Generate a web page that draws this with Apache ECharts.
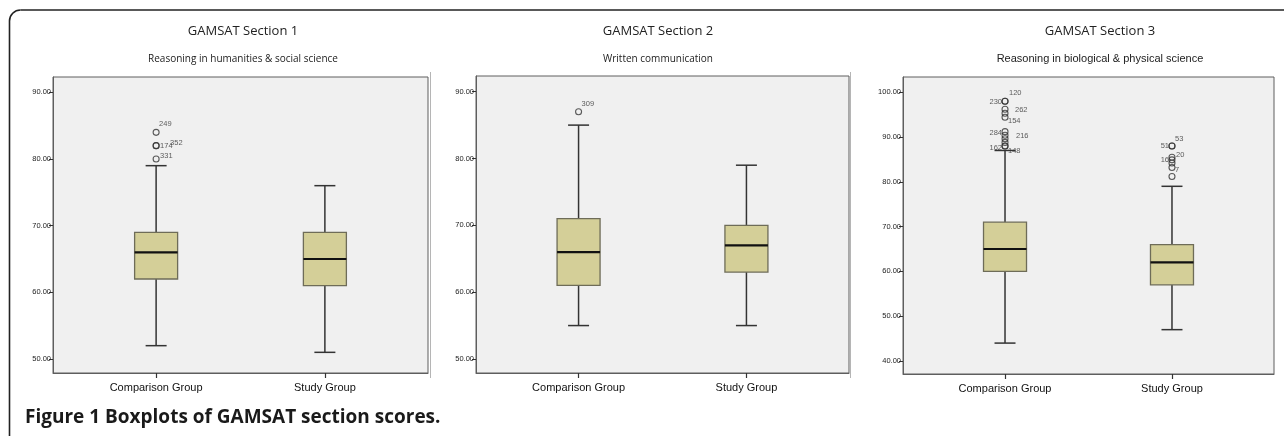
<!DOCTYPE html>
<html>
<head>
<meta charset="utf-8">
<script src="https://cdn.jsdelivr.net/npm/echarts@6/dist/echarts.min.js"></script>
<style>
  html, body { margin: 0; padding: 0; background: #ffffff; }
  #chart { width: 1284px; height: 436px; }
</style>
</head>
<body>
<div id="chart"></div>
<script>
// ---------- data ----------
const categories = ['Comparison Group', 'Study Group'];
const panelTitles = ['GAMSAT Section 1', 'GAMSAT Section 2', 'GAMSAT Section 3'];
const panelSubtitles = [
  'Reasoning in humanities & social science',
  'Written communication',
  'Reasoning in biological & physical science'
];
const caption = 'Figure 1 Boxplots of GAMSAT section scores.';

const yTicks12 = [50, 60, 70, 80, 90];
const yTicks3 = [40, 50, 60, 70, 80, 90, 100];

// [lower whisker, Q1, median, Q3, upper whisker]
const s1Comparison = [52, 62, 66, 69, 79];
const s1Study      = [51, 61, 65, 69, 76];
const s2Comparison = [55, 61, 66, 71, 85];
const s2Study      = [55, 63, 67, 70, 79];
const s3Comparison = [44, 60, 65, 71, 87];
const s3Study      = [47, 57, 62, 66, 79];

// outliers: [group index, value, case id]
const s1Outliers = [[0, 84, '249'], [0, 82, '174'], [0, 82, '352'], [0, 80, '331']];
const s2Outliers = [[0, 87, '309']];
const s3Outliers = [
  [0, 98, '120'], [0, 98, '230'], [0, 96.2, '262'], [0, 95.3, ''], [0, 94.4, '154'],
  [0, 91.2, '284'], [0, 90.4, '216'], [0, 89.6, ''], [0, 88.8, ''], [0, 88, '162'], [0, 88, '148'],
  [1, 88, '51'], [1, 88, '53'], [1, 85.5, '20'], [1, 84.9, '16'], [1, 84.2, ''], [1, 83.2, '7'], [1, 81.2, '']
];

// ---------- styling / layout ----------
// label placement per case id: [dx, dy, align]
const labelPlacement = {
  '249': [3, -8, 'left'], '174': [4, 0, 'left'], '352': [14, -3, 'left'], '331': [4, -3, 'left'],
  '309': [3, -8, 'left'],
  '120': [4, -8, 'left'], '230': [-3, 1, 'right'], '262': [10, 1, 'left'], '154': [3, 4, 'left'],
  '284': [-3, 1, 'right'], '216': [11, 1, 'left'], '162': [-3, 2, 'right'], '148': [3, 5, 'left'],
  '51': [-3, 0, 'right'], '53': [3, -7, 'left'], '20': [4, -2, 'left'], '16': [-3, 0, 'right'], '7': [3, 2, 'left']
};

const grids = [
  { left: 53, top: 77, width: 375, height: 296 },
  { left: 476, top: 76, width: 373, height: 297 },
  { left: 903, top: 77, width: 371, height: 297 }
];
const yRanges = [[47.9, 92.3], [47.9, 92.35], [37.1, 103.4]];
const xRange = [-0.611, 1.611];
const titleCenters = [243, 658, 1100];
const subtitleFonts = ['10px "Open Sans"', '10px "Open Sans"', '11px "Liberation Sans"'];

const BOX_FILL = '#D4CF98';
const BOX_STROKE = '#6e6c58';
const LINE_DARK = '#333333';
const FRAME = '#5e5e5e';

function renderBox(params, api) {
  const x = api.value(0);
  const p = [1, 2, 3, 4, 5].map(i => api.coord([x, api.value(i)]));
  const cx = p[0][0];
  const hb = 21.5, hc = 10.5;
  const ws = { stroke: LINE_DARK, lineWidth: 1.5 };
  return {
    type: 'group',
    children: [
      { type: 'line', shape: { x1: cx, y1: p[0][1], x2: cx, y2: p[1][1] }, style: ws },
      { type: 'line', shape: { x1: cx, y1: p[3][1], x2: cx, y2: p[4][1] }, style: ws },
      { type: 'line', shape: { x1: cx - hc, y1: p[0][1], x2: cx + hc, y2: p[0][1] }, style: ws },
      { type: 'line', shape: { x1: cx - hc, y1: p[4][1], x2: cx + hc, y2: p[4][1] }, style: ws },
      { type: 'rect', shape: { x: cx - hb, y: p[3][1], width: 2 * hb, height: p[1][1] - p[3][1] },
        style: { fill: BOX_FILL, stroke: BOX_STROKE, lineWidth: 1.3 } },
      { type: 'line', shape: { x1: cx - hb, y1: p[2][1], x2: cx + hb, y2: p[2][1] },
        style: { stroke: '#111', lineWidth: 2.2 } }
    ]
  };
}

const boxSets = [[s1Comparison, s1Study], [s2Comparison, s2Study], [s3Comparison, s3Study]];
const outlierSets = [s1Outliers, s2Outliers, s3Outliers];
const yTickSets = [yTicks12, yTicks12, yTicks3];

const option = {
  animation: false,
  backgroundColor: '#ffffff',
  grid: grids.map(g => Object.assign({
    show: true, backgroundColor: '#F0F0F0', borderColor: FRAME, borderWidth: 1, containLabel: false
  }, g)),
  xAxis: grids.map((g, i) => ({
    type: 'value', gridIndex: i, min: xRange[0], max: xRange[1],
    splitLine: { show: false },
    axisLine: { show: true, onZero: false, lineStyle: { color: FRAME, width: 1 } },
    axisTick: { show: true, length: 5, customValues: [0, 1], lineStyle: { color: LINE_DARK, width: 1.2 } },
    axisLabel: {
      show: true, customValues: [0, 1], margin: 9,
      formatter: v => categories[Math.round(v)] || '',
      fontFamily: 'Liberation Sans', fontSize: 11, color: '#111'
    }
  })),
  yAxis: grids.map((g, i) => ({
    type: 'value', gridIndex: i, min: yRanges[i][0], max: yRanges[i][1],
    splitLine: { show: false },
    axisLine: { show: true, onZero: false, lineStyle: { color: FRAME, width: 1 } },
    axisTick: { show: true, length: 4, customValues: yTickSets[i], lineStyle: { color: LINE_DARK, width: 1 } },
    axisLabel: {
      show: true, customValues: yTickSets[i], margin: 2,
      formatter: v => Number(v).toFixed(2),
      fontFamily: 'Liberation Sans', fontSize: 7.5, color: '#222'
    }
  })),
  series: [],
  graphic: []
};

boxSets.forEach((set, i) => {
  option.series.push({
    type: 'custom', xAxisIndex: i, yAxisIndex: i,
    renderItem: renderBox,
    encode: { x: 0, y: [1, 2, 3, 4, 5] },
    data: set.map((vals, gi) => [gi].concat(vals)),
    silent: true, z: 2
  });
  option.series.push({
    type: 'scatter', xAxisIndex: i, yAxisIndex: i,
    symbol: 'circle', symbolSize: 6, z: 3, silent: true,
    itemStyle: { color: 'rgba(0,0,0,0)', borderColor: LINE_DARK, borderWidth: 1.1 },
    data: outlierSets[i].map(o => {
      const pl = labelPlacement[o[2]] || [0, 0, 'left'];
      return {
        value: [o[0], o[1]],
        label: {
          show: o[2] !== '', formatter: o[2], position: 'inside',
          offset: [pl[0], pl[1]], align: pl[2], verticalAlign: 'middle',
          fontFamily: 'Liberation Sans', fontSize: 7.5, color: '#333'
        }
      };
    })
  });
});

// titles, subtitles
titleCenters.forEach((cx, i) => {
  option.graphic.push({
    type: 'text', x: cx, y: 31, silent: true,
    style: { text: panelTitles[i], align: 'center', verticalAlign: 'middle',
      font: '13px "Open Sans"', fill: '#222' }
  });
  option.graphic.push({
    type: 'text', x: cx, y: 59, silent: true,
    style: { text: panelSubtitles[i], align: 'center', verticalAlign: 'middle',
      font: subtitleFonts[i], fill: '#222' }
  });
});

// outer rounded frame (left + top)
const frameStyle = { stroke: '#222', fill: null, lineWidth: 1.6 };
option.graphic.push({
  type: 'line', silent: true, shape: { x1: 9.5, y1: 436, x2: 9.5, y2: 21 }, style: frameStyle
});
option.graphic.push({
  type: 'line', silent: true, shape: { x1: 20.5, y1: 10, x2: 1284, y2: 10 }, style: frameStyle
});
option.graphic.push({
  type: 'arc', silent: true,
  shape: { cx: 20.5, cy: 21, r: 11, startAngle: Math.PI, endAngle: Math.PI * 1.5, clockwise: true },
  style: frameStyle
});
// panel separators
[430, 850].forEach(x => {
  option.graphic.push({
    type: 'line', silent: true,
    shape: { x1: x + 0.5, y1: 72, x2: x + 0.5, y2: 378 },
    style: { stroke: '#b5b5b5', lineWidth: 1 }
  });
});
// caption
option.graphic.push({
  type: 'text', x: 25, y: 418, silent: true,
  style: { text: caption, align: 'left', verticalAlign: 'middle',
    font: 'bold 19px "Open Sans"', fill: '#1a1a1a' }
});

const chart = echarts.init(document.getElementById('chart'));
chart.setOption(option);
</script>
</body>
</html>
